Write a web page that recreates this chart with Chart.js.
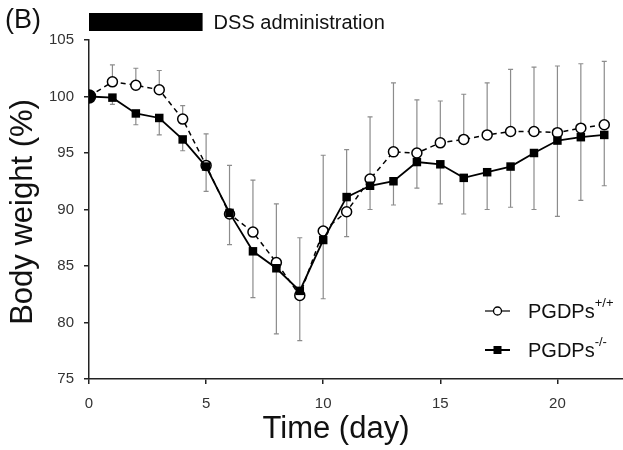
<!DOCTYPE html>
<html><head><meta charset="utf-8">
<script src="https://cdn.jsdelivr.net/npm/chart.js@4.4.1/dist/chart.umd.min.js"></script>
<style>html,body{margin:0;padding:0;background:#fff}</style>
</head><body>
<canvas id="c" width="623" height="450" style="width:623px;height:450px;display:block"></canvas>
<script>
// ---- data ----
const days = [0,1,2,3,4,5,6,7,8,9,10,11,12,13,14,15,16,17,18,19,20,21,22];
const wtMean = [100,101.3,101.0,100.6,98.0,93.9,89.6,88.0,85.3,82.4,88.1,89.8,92.7,95.1,95.0,95.9,96.2,96.6,96.9,96.9,96.8,97.2,97.5];
const wtUpper = [null,102.8,102.5,102.3,99.2,96.7,93.9,92.6,90.5,87.5,94.8,95.3,98.2,101.2,99.7,99.6,100.2,101.2,102.4,102.6,102.7,102.9,103.1];
const koMean = [100,99.9,98.5,98.1,96.2,93.8,89.7,86.3,84.8,82.8,87.3,91.1,92.1,92.5,94.2,94.0,92.8,93.3,93.8,95.0,96.1,96.4,96.6];
const koLower = [null,99.3,97.5,96.6,95.2,91.6,86.9,82.2,79.0,78.4,82.1,87.6,90.0,90.4,91.9,90.5,89.6,90.0,90.2,90.0,89.4,90.8,92.1];
const xTicks = [0,5,10,15,20];
const yTicks = [75,80,85,90,95,100,105];
const dssPeriod = [0, 4.85];
const seriesNames = ['PGDPs', 'PGDPs'];
const seriesSup = ['+/+', '-/-'];
const panelLabel = '(B)';
const dssLabel = 'DSS administration';
const xTitle = 'Time (day)';
const yTitle = 'Body weight (%)';

const FONT = "'Liberation Sans', Arial, sans-serif";

const errorBars = {
  id: 'errorBars',
  beforeDatasetsDraw(chart) {
    const {ctx, scales:{x, y}} = chart;
    ctx.save();
    ctx.strokeStyle = '#8c8c8c';
    ctx.lineWidth = 1.2;
    const cap = 2.5;
    const draw = (d, from, to) => {
      if (to == null) return;
      const px = x.getPixelForValue(d);
      const p1 = y.getPixelForValue(from), p2 = y.getPixelForValue(to);
      ctx.beginPath();
      ctx.moveTo(px, p1); ctx.lineTo(px, p2);
      ctx.moveTo(px - cap, p2); ctx.lineTo(px + cap, p2);
      ctx.stroke();
    };
    days.forEach((d, i) => { draw(d, wtMean[i], wtUpper[i]); draw(d, koMean[i], koLower[i]); });
    ctx.restore();
  }
};

const decorations = {
  id: 'decorations',
  afterDraw(chart) {
    const {ctx, scales:{x}} = chart;
    ctx.save();
    ctx.textBaseline = 'middle';
    ctx.textAlign = 'left';
    // panel label
    ctx.fillStyle = '#111';
    ctx.font = '27px ' + FONT;
    ctx.fillText(panelLabel, 5, 21);
    // DSS bar
    const x0 = x.getPixelForValue(dssPeriod[0]), x1 = x.getPixelForValue(dssPeriod[1]);
    ctx.fillStyle = '#000';
    ctx.fillRect(x0, 13, x1 - x0, 18);
    ctx.fillStyle = '#111';
    ctx.font = '20px ' + FONT;
    ctx.fillText(dssLabel, x1 + 11, 23);
    // axis titles
    ctx.font = '31px ' + FONT;
    ctx.textAlign = 'center';
    ctx.fillText(xTitle, 336, 429);
    ctx.save();
    ctx.translate(23, 212);
    ctx.rotate(-Math.PI / 2);
    ctx.fillText(yTitle, 0, 0);
    ctx.restore();
    ctx.textAlign = 'left';
    // legend
    const items = [
      {y: 311, lw: 1.2, style: 'circle'},
      {y: 350, lw: 2, style: 'rect'}
    ];
    items.forEach((it, i) => {
      ctx.strokeStyle = '#000';
      ctx.lineWidth = it.lw;
      ctx.beginPath(); ctx.moveTo(485, it.y); ctx.lineTo(510, it.y); ctx.stroke();
      if (it.style === 'circle') {
        ctx.fillStyle = '#fff'; ctx.lineWidth = 1.3;
        ctx.beginPath(); ctx.arc(497.5, it.y, 4, 0, Math.PI * 2); ctx.fill(); ctx.stroke();
      } else {
        ctx.fillStyle = '#000';
        ctx.fillRect(493.5, it.y - 4, 8, 8);
      }
      ctx.fillStyle = '#111';
      ctx.font = '20px ' + FONT;
      ctx.fillText(seriesNames[i], 528, it.y + 1);
      const w = ctx.measureText(seriesNames[i]).width;
      ctx.font = '13px ' + FONT;
      ctx.fillText(seriesSup[i], 528 + w, it.y - 8);
    });
    ctx.restore();
  }
};

new Chart(document.getElementById('c'), {
  type: 'line',
  data: {
    datasets: [
      {
        label: seriesNames[1] + seriesSup[1],
        data: days.map((d, i) => ({x: d, y: koMean[i]})),
        borderColor: '#000', borderWidth: 1.8,
        pointStyle: 'rect', pointRadius: 6, pointBackgroundColor: '#000', pointBorderColor: '#000', pointBorderWidth: 0,
        tension: 0
      },
      {
        label: seriesNames[0] + seriesSup[0],
        data: days.map((d, i) => ({x: d, y: wtMean[i]})),
        borderColor: '#000', borderWidth: 1.5, borderDash: [5, 4],
        pointStyle: 'circle', pointRadius: days.map((d, i) => i === 0 ? 6.5 : 5),
        pointBackgroundColor: days.map((d, i) => i === 0 ? '#000' : '#fff'),
        pointBorderColor: '#000', pointBorderWidth: 1.5,
        tension: 0
      }
    ]
  },
  options: {
    responsive: false,
    devicePixelRatio: 1,
    animation: false,
    layout: {autoPadding: false, padding: {top: 40, left: 0, right: 0, bottom: 0}},
    plugins: {legend: {display: false}, tooltip: {enabled: false}},
    scales: {
      x: {
        type: 'linear', min: 0, max: 22.8,
        afterBuildTicks(s) { s.ticks = xTicks.map(v => ({value: v})); },
        afterFit(s) { s.height = 71; s.paddingRight = 0; s.paddingLeft = 0; },
        ticks: {font: {size: 15, family: FONT}, color: '#333', padding: 11, includeBounds: false},
        grid: {drawOnChartArea: false, drawTicks: true, tickLength: 5, color: '#222', lineWidth: 1.5},
        border: {color: '#222', width: 1.5},
        title: {display: false}
      },
      y: {
        type: 'linear', min: 75, max: 105,
        afterBuildTicks(s) { s.ticks = yTicks.map(v => ({value: v})); },
        afterFit(s) { s.width = 89; },
        ticks: {font: {size: 15, family: FONT}, color: '#333', padding: 10},
        grid: {drawOnChartArea: false, drawTicks: true, tickLength: 5, color: '#222', lineWidth: 1.5},
        border: {color: '#222', width: 1.5},
        title: {display: false}
      }
    }
  },
  plugins: [errorBars, decorations]
});
</script>
</body></html>
